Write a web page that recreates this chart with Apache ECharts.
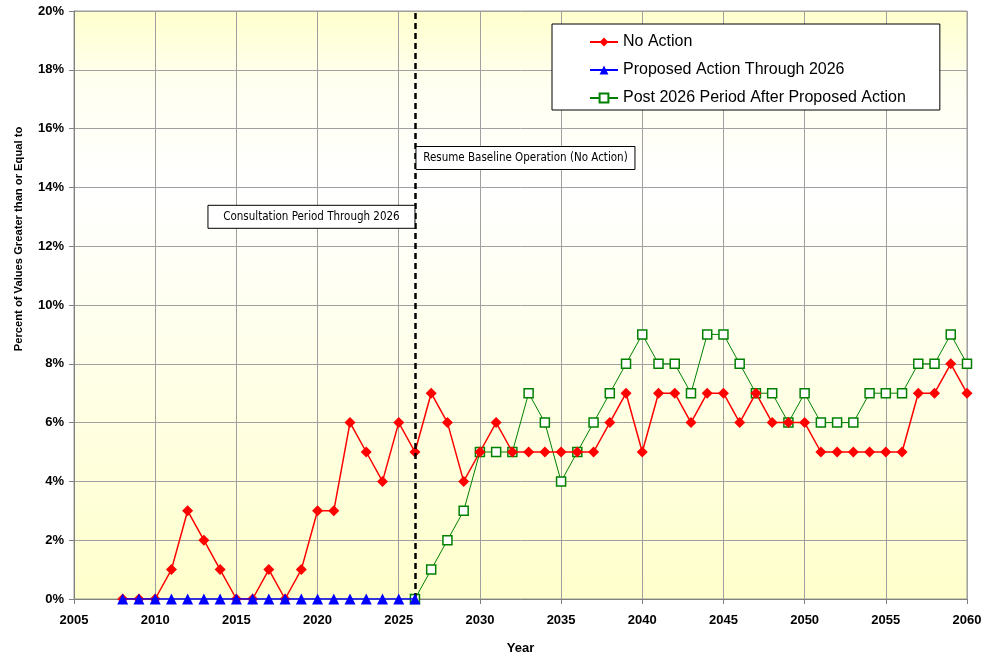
<!DOCTYPE html>
<html>
<head>
<meta charset="utf-8">
<script src="https://cdn.jsdelivr.net/npm/echarts@6/dist/echarts.min.js"></script>
<style>
html,body{margin:0;padding:0;background:#fff;}
#chart{width:984px;height:658px;}
</style>
</head>
<body>
<div id="chart"></div>
<script>
// Data
const noActionYears = [2008,2009,2010,2011,2012,2013,2014,2015,2016,2017,2018,2019,2020,2021,2022,2023,2024,2025,2026,2027,2028,2029,2030,2031,2032,2033,2034,2035,2036,2037,2038,2039,2040,2041,2042,2043,2044,2045,2046,2047,2048,2049,2050,2051,2052,2053,2054,2055,2056,2057,2058,2059,2060];
const noActionValues = [0,0,0,1,3,2,1,0,0,1,0,1,3,3,6,5,4,6,5,7,6,4,5,6,5,5,5,5,5,5,6,7,5,7,7,6,7,7,6,7,6,6,6,5,5,5,5,5,5,7,7,8,7];
const proposedYears = [2008,2009,2010,2011,2012,2013,2014,2015,2016,2017,2018,2019,2020,2021,2022,2023,2024,2025,2026];
const proposedValues = [0,0,0,0,0,0,0,0,0,0,0,0,0,0,0,0,0,0,0];
const postYears = [2026,2027,2028,2029,2030,2031,2032,2033,2034,2035,2036,2037,2038,2039,2040,2041,2042,2043,2044,2045,2046,2047,2048,2049,2050,2051,2052,2053,2054,2055,2056,2057,2058,2059,2060];
const postValues = [0,1,2,3,5,5,5,7,6,4,5,6,7,8,9,8,8,7,9,9,8,7,7,6,7,6,6,6,7,7,7,8,8,9,8];
const seriesNames = ['No Action','Proposed Action Through 2026','Post 2026 Period After Proposed Action'];
const dividerYear = 2026;
const annotationLeft = {text:'Consultation Period Through 2026', year:2026, value:13};
const annotationRight = {text:'Resume Baseline Operation (No Action)', year:2026, value:15};
const yTitle = 'Percent of Values Greater than or Equal to';
const xTitle = 'Year';

const zip = (xs, ys) => xs.map((x,i)=>[x, ys[i]]);

const chart = echarts.init(document.getElementById('chart'), null, {renderer:'canvas'});
const font = 'Liberation Sans, Arial, sans-serif';
const narrow = "'Liberation Sans Narrow', 'Arial Narrow', 'DejaVu Sans Condensed', sans-serif";

const option = {
  animation:false,
  backgroundColor:'#ffffff',
  grid:{
    left:74, right:17, top:11, bottom:59,
    outerBoundsMode:'none',
    containLabel:false,
    show:true,
    borderColor:'#999999', borderWidth:1,
    backgroundColor:{
      type:'linear', x:0, y:0, x2:0, y2:1,
      colorStops:[
        {offset:0, color:'#FFFFCC'},
        {offset:0.12, color:'#FFFFF0'},
        {offset:0.3, color:'#FFFFFF'},
        {offset:1, color:'#FFFFCC'}
      ]
    }
  },
  legend:{
    orient:'vertical',
    left:552, top:24,
    padding:[10, 34, 4, 37],
    backgroundColor:'#ffffff',
    borderColor:'#000000', borderWidth:1,
    itemWidth:28, itemHeight:11, itemGap:12,
    textStyle:{fontFamily:font, fontSize:16, color:'#000'},
    data:seriesNames
  },
  xAxis:{
    type:'value', min:2005, max:2060, interval:5,
    name:xTitle, nameLocation:'middle', nameGap:43,
    nameTextStyle:{fontFamily:font, fontSize:13, fontWeight:'bold', color:'#000'},
    axisLine:{show:true, lineStyle:{color:'#808080', width:1}},
    axisTick:{show:true, length:5, lineStyle:{color:'#808080'}},
    axisLabel:{fontFamily:font, fontSize:13, fontWeight:'bold', color:'#000', margin:15,
      formatter:v=>String(v)},
    splitLine:{show:true, lineStyle:{color:'#a0a0a0', width:1}}
  },
  yAxis:{
    type:'value', min:0, max:20, interval:2,
    axisLine:{show:true, lineStyle:{color:'#808080', width:1}},
    axisTick:{show:true, length:5, lineStyle:{color:'#808080'}},
    axisLabel:{fontFamily:font, fontSize:13, fontWeight:'bold', color:'#000', margin:10,
      formatter:v=>v+'%'},
    splitLine:{show:true, lineStyle:{color:'#a0a0a0', width:1}}
  },
  series:[
    {
      name:seriesNames[0], type:'line', z:3,
      data:zip(noActionYears, noActionValues),
      symbol:'diamond', symbolSize:11,
      itemStyle:{color:'#FF0000'},
      lineStyle:{color:'#FF0000', width:1.5},
      markLine:{
        silent:true, symbol:'none',
        label:{show:false},
        lineStyle:{color:'#000', width:2.5, type:[6,4]},
        data:[{xAxis:dividerYear}]
      }
    },
    {
      name:seriesNames[1], type:'line', z:5,
      data:zip(proposedYears, proposedValues),
      symbol:'triangle', symbolSize:11,
      itemStyle:{color:'#0000FF'},
      lineStyle:{color:'#0000FF', width:1.5}
    },
    {
      name:seriesNames[2], type:'line', z:2,
      data:zip(postYears, postValues),
      symbol:'rect', symbolSize:9,
      itemStyle:{color:'#ffffff', borderColor:'#008000', borderWidth:1.5},
      lineStyle:{color:'#008000', width:1}
    }
  ]
};
chart.setOption(option);

function buildGraphics(){
  const pL = chart.convertToPixel({gridIndex:0}, [annotationLeft.year, annotationLeft.value]);
  const pR = chart.convertToPixel({gridIndex:0}, [annotationRight.year, annotationRight.value]);
  const boxH = 23;
  const wL = 207, wR = 219;
  chart.setOption({
    graphic:[
      {type:'rect', z:10, shape:{x:pL[0]-wL, y:pL[1]-boxH/2, width:wL, height:boxH},
        style:{fill:'#fff', stroke:'#000', lineWidth:1}},
      {type:'text', z:11, x:pL[0]-wL/2, y:pL[1],
        style:{text:annotationLeft.text, font:'11.5px '+narrow, fill:'#000', align:'center', verticalAlign:'middle'}},
      {type:'rect', z:10, shape:{x:pR[0]+1, y:pR[1]-boxH/2, width:wR, height:boxH},
        style:{fill:'#fff', stroke:'#000', lineWidth:1}},
      {type:'text', z:11, x:pR[0]+1+wR/2, y:pR[1],
        style:{text:annotationRight.text, font:'11.5px '+narrow, fill:'#000', align:'center', verticalAlign:'middle'}},
      {type:'text', z:11, x:19, y:239, rotation:Math.PI/2,
        style:{text:yTitle, font:'bold 11.2px '+font, fill:'#000', align:'center', verticalAlign:'middle'}}
    ]
  });
}
buildGraphics();
</script>
</body>
</html>
